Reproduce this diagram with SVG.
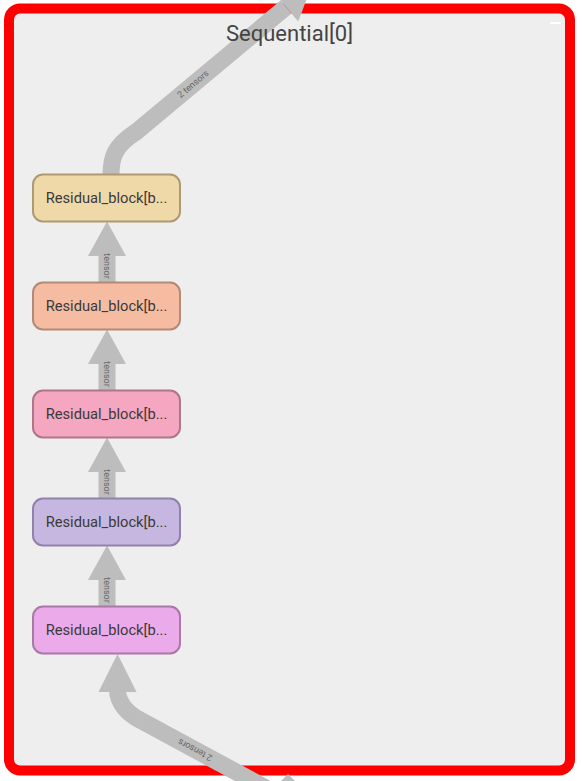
<svg xmlns="http://www.w3.org/2000/svg" width="582" height="781" viewBox="0 0 582 781">
<style>
.node rect{stroke-width:2}
.node text{font-family:Roboto,"Liberation Sans",sans-serif;font-size:14.7px;fill:#3a3a3a;text-anchor:middle}
.shaft{fill:none;stroke:#bdbdbd;stroke-width:17}
.head{fill:#bdbdbd}
.elabel{font-family:Roboto,"Liberation Sans",sans-serif;font-size:9px;fill:#666;text-anchor:middle}
.title{font-family:Roboto,"Liberation Sans",sans-serif;font-size:22px;fill:#444;text-anchor:middle}
</style>
<rect x="0" y="0" width="582" height="781" fill="#ffffff"/>
<g id="frame">
<rect x="9" y="8.5" width="561" height="762" rx="11" fill="#eeeeee" stroke="#ff0000" stroke-width="10"/>
<rect x="550" y="22" width="11" height="2" fill="#ffffff"/>
</g>
<g id="connectors">
<path class="shaft" d="M111 175 C111 158 114 146 136 132 L286 7"/>
<polygon class="head" points="312,-15 298.2,21.6 273.8,-7.6"/>
<text class="elabel" transform="translate(193 84) rotate(-40)" y="3">2 tensors</text>
<path class="shaft" d="M107 256 V282.5"/>
<polygon class="head" points="107,221.5 126,256 88,256"/>
<text class="elabel" transform="translate(107 266) rotate(90)" y="3">tensor</text>
<path class="shaft" d="M107 364 V390.5"/>
<polygon class="head" points="107,329.5 126,364 88,364"/>
<text class="elabel" transform="translate(107 374) rotate(90)" y="3">tensor</text>
<path class="shaft" d="M107 472 V498.5"/>
<polygon class="head" points="107,437.5 126,472 88,472"/>
<text class="elabel" transform="translate(107 482) rotate(90)" y="3">tensor</text>
<path class="shaft" d="M107 580 V606.5"/>
<polygon class="head" points="107,545.5 126,580 88,580"/>
<text class="elabel" transform="translate(107 590) rotate(90)" y="3">tensor</text>
<path class="shaft" d="M275 793 L140 720 C129.4 714.4 117.5 704 117.5 690"/>
<polygon class="head" points="117.5,654 136.5,692 98.5,692"/>
<text class="elabel" transform="translate(195 750) rotate(208)" y="3">2 tensors</text>
<polygon class="head" points="288,774 279,783 297,783"/>
</g>
<g id="title">
<text class="title" x="289.5" y="41">Sequential[0]</text>
</g>
<g id="node1" class="node">
<rect x="33" y="174.5" width="147" height="47" rx="10" fill="#f0d9a9" stroke="#ae9a72"/>
<text x="106.5" y="203">Residual_block[b...</text>
</g>
<g id="node2" class="node">
<rect x="33" y="282.5" width="147" height="47" rx="10" fill="#f6bca2" stroke="#b28a76"/>
<text x="106.5" y="311">Residual_block[b...</text>
</g>
<g id="node3" class="node">
<rect x="33" y="390.5" width="147" height="47" rx="10" fill="#f5a6c0" stroke="#ae7789"/>
<text x="106.5" y="419">Residual_block[b...</text>
</g>
<g id="node4" class="node">
<rect x="33" y="498.5" width="147" height="47" rx="10" fill="#c6b7e0" stroke="#9281ab"/>
<text x="106.5" y="527">Residual_block[b...</text>
</g>
<g id="node5" class="node">
<rect x="33" y="606.5" width="147" height="47" rx="10" fill="#ebaae9" stroke="#a979a7"/>
<text x="106.5" y="635">Residual_block[b...</text>
</g>
</svg>
